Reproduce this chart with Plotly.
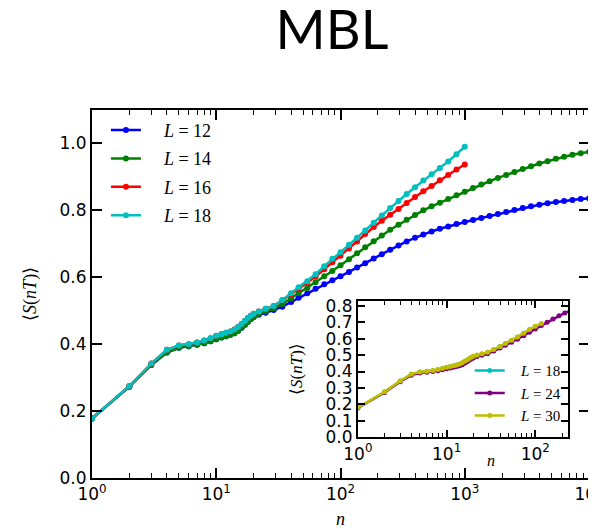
import plotly.graph_objects as go

# ---------------- data ----------------
n_grid = [1, 2, 3, 4, 5, 6, 7, 8, 9, 10, 11, 12, 13, 14, 15, 16, 17, 18, 19, 20,
          22, 25, 29, 34, 40, 46, 54, 63, 74, 86, 100, 117, 136, 158, 185, 215, 251,
          293, 341, 398, 464, 541, 631, 736, 858, 1000,
          1166, 1359, 1585, 1848, 2154, 2512, 2929, 3415, 3981, 4642, 5412, 6310,
          7356, 8577, 10000]

s_L12 = [0.178, 0.273, 0.338, 0.375, 0.389, 0.394, 0.398, 0.403, 0.409, 0.415,
         0.420, 0.424, 0.428, 0.433, 0.440, 0.449, 0.458, 0.467, 0.475, 0.481,
         0.488, 0.494, 0.502, 0.512, 0.526, 0.539, 0.552, 0.566, 0.579, 0.591,
         0.603, 0.616, 0.629, 0.642, 0.656, 0.669, 0.682, 0.695, 0.707, 0.718,
         0.728, 0.737, 0.745, 0.752, 0.759, 0.765,
         0.771, 0.777, 0.783, 0.789, 0.795, 0.801, 0.807, 0.812, 0.817, 0.821,
         0.825, 0.828, 0.831, 0.834, 0.836]

s_L14 = [0.178, 0.273, 0.338, 0.375, 0.389, 0.394, 0.398, 0.403, 0.409, 0.415,
         0.420, 0.424, 0.428, 0.433, 0.440, 0.449, 0.458, 0.467, 0.475, 0.481,
         0.490, 0.498, 0.507, 0.520, 0.537, 0.552, 0.568, 0.585, 0.603, 0.619,
         0.636, 0.654, 0.672, 0.690, 0.708, 0.725, 0.742, 0.757, 0.772, 0.786,
         0.800, 0.812, 0.823, 0.834, 0.845, 0.856,
         0.867, 0.877, 0.887, 0.897, 0.906, 0.915, 0.924, 0.932, 0.940, 0.947,
         0.954, 0.960, 0.966, 0.971, 0.975]

n_short = n_grid[:46]

s_L16 = [0.178, 0.275, 0.342, 0.383, 0.396, 0.400, 0.405, 0.411, 0.418, 0.425,
         0.430, 0.434, 0.438, 0.444, 0.451, 0.460, 0.469, 0.478, 0.485, 0.491,
         0.498, 0.506, 0.514, 0.531, 0.549, 0.566, 0.583, 0.602, 0.624, 0.645,
         0.664, 0.686, 0.707, 0.729, 0.750, 0.769, 0.787, 0.804, 0.822, 0.840,
         0.857, 0.873, 0.890, 0.906, 0.922, 0.937]

s_L18 = [0.178, 0.275, 0.342, 0.383, 0.396, 0.400, 0.405, 0.411, 0.418, 0.425,
         0.430, 0.434, 0.438, 0.444, 0.451, 0.460, 0.469, 0.478, 0.485, 0.491,
         0.498, 0.506, 0.514, 0.532, 0.552, 0.570, 0.588, 0.609, 0.633, 0.655,
         0.675, 0.697, 0.718, 0.740, 0.763, 0.785, 0.807, 0.828, 0.849, 0.869,
         0.889, 0.908, 0.927, 0.946, 0.968, 0.990]

# inset
n_in18 = n_grid[:31]
s_in18 = s_L18[:31]

n_in24 = n_grid[:37]
s_in24 = [0.178, 0.272, 0.338, 0.378, 0.391, 0.396, 0.400, 0.405, 0.411, 0.417,
          0.422, 0.426, 0.430, 0.435, 0.442, 0.451, 0.460, 0.469, 0.477, 0.483,
          0.492, 0.500, 0.508, 0.525, 0.544, 0.560, 0.578, 0.597, 0.618, 0.640,
          0.660, 0.680, 0.700, 0.720, 0.740, 0.757, 0.773]

n_in30 = n_grid[:32]
s_in30 = [0.180, 0.276, 0.343, 0.384, 0.397, 0.401, 0.406, 0.412, 0.419, 0.426,
          0.431, 0.435, 0.440, 0.446, 0.453, 0.462, 0.471, 0.480, 0.487, 0.493,
          0.501, 0.509, 0.517, 0.534, 0.553, 0.571, 0.590, 0.611, 0.634, 0.656,
          0.676, 0.693]

main_xticks = [1, 10, 100, 1000, 10000]
main_xtext = ["10<sup>0</sup>", "10<sup>1</sup>", "10<sup>2</sup>", "10<sup>3</sup>", "10<sup>4</sup>"]
main_yticks = [0.0, 0.2, 0.4, 0.6, 0.8, 1.0]
inset_xticks = [1, 10, 100]
inset_xtext = ["10<sup>0</sup>", "10<sup>1</sup>", "10<sup>2</sup>"]
inset_yticks = [0.0, 0.1, 0.2, 0.3, 0.4, 0.5, 0.6, 0.7, 0.8]

minor_main = [m * 10 ** d for d in range(4) for m in range(2, 10)]
minor_inset = [m * 10 ** d for d in range(3) for m in range(2, 10)]

# ---------------- figure ----------------
# the page body carries an 8 px margin, so the figure is 8 px smaller and
# every layout offset is measured from (8, 8) of the window
fig = go.Figure()

serif = "Liberation Serif"
sans = "DejaVu Sans"
NB = "\u00a0"

main_series = [("12", s_L12, n_grid, "#0000ff"),
               ("14", s_L14, n_grid, "#008000"),
               ("16", s_L16, n_short, "#ff0000"),
               ("18", s_L18, n_short, "#00bfbf")]
for lab, ys, xs, col in main_series:
    fig.add_trace(go.Scatter(
        x=xs, y=ys, mode="lines+markers", name=NB * 4 + f"<i>L</i> = {lab}",
        line=dict(color=col, width=2.5), marker=dict(color=col, size=6),
        legend="legend", legendgroup="m" + lab, xaxis="x", yaxis="y"))

inset_series = [("18", s_in18, n_in18, "#00bfbf"),
                ("24", s_in24, n_in24, "#800080"),
                ("30", s_in30, n_in30, "#bfbf00")]
for lab, ys, xs, col in inset_series:
    fig.add_trace(go.Scatter(
        x=xs, y=ys, mode="lines+markers", name=NB * 3 + f"<i>L</i> = {lab}",
        line=dict(color=col, width=2.5), marker=dict(color=col, size=5),
        legend="legend2", legendgroup="i" + lab, xaxis="x2", yaxis="y2"))

axis_common = dict(showgrid=False, zeroline=False, showline=True, linecolor="black",
                   linewidth=2, mirror="allticks", ticks="inside", tickcolor="black",
                   automargin=False,
                   tickfont=dict(family=sans, size=17, color="black"))

fig.update_layout(
    width=588, height=521,
    margin=dict(l=84, r=7, t=102, b=51, autoexpand=False),
    paper_bgcolor="white", plot_bgcolor="white",
    showlegend=True,
    xaxis=dict(type="log", range=[0, 4], domain=[0, 1],
               tickvals=main_xticks, ticktext=main_xtext, ticklen=10, tickwidth=1.5,
               ticklabeloverflow="allow",
               minor=dict(ticks="inside", ticklen=5, tickcolor="black", tickwidth=1,
                          tickvals=minor_main, showgrid=False),
               **axis_common),
    yaxis=dict(range=[0, 1.1], domain=[0, 1], tickvals=main_yticks,
               ticktext=[f"{v:.1f}" for v in main_yticks], ticklen=10, tickwidth=1.5,
               ticklabeloverflow="allow",
               **axis_common),
    xaxis2=dict(type="log", range=[0, 2.37], domain=[0.535, 0.958], anchor="y2",
                tickvals=inset_xticks, ticktext=inset_xtext, ticklen=7, tickwidth=1.5,
                minor=dict(ticks="inside", ticklen=4, tickcolor="black", tickwidth=1,
                           tickvals=minor_inset, showgrid=False),
                **axis_common),
    yaxis2=dict(range=[0, 0.83], domain=[0.111, 0.481], anchor="x2",
                tickvals=inset_yticks, ticktext=[f"{v:.1f}" for v in inset_yticks],
                ticklen=7, tickwidth=1.5, ticklabelstandoff=0,
                **axis_common),
    legend=dict(x=0.028, y=0.995, xanchor="left", yanchor="top",
                bgcolor="rgba(0,0,0,0)", borderwidth=0,
                font=dict(family=serif, size=18, color="black"),
                tracegroupgap=2, itemwidth=30),
    legend2=dict(x=0.76, y=0.336, xanchor="left", yanchor="top",
                 bgcolor="rgba(0,0,0,0)", borderwidth=0,
                 font=dict(family=serif, size=15, color="black"),
                 tracegroupgap=0, itemwidth=30),
    title=dict(text="MBL", x=324 / 588, xref="container",
               xanchor="center", y=1 - 22 / 521, yanchor="middle",
               font=dict(family="Lato", size=54, color="black")),
)

fig.add_annotation(text="<i>n</i>", xref="paper", yref="paper",
                   x=0.5, y=-0.112, xanchor="center", yanchor="middle",
                   showarrow=False,
                   font=dict(family=serif, size=18, color="black"))
fig.add_annotation(text="⟨<i>S</i>(<i>nT</i>)⟩", xref="paper", yref="paper",
                   x=-0.125, y=0.5, xanchor="center", yanchor="middle",
                   textangle=-90, showarrow=False,
                   font=dict(family=serif, size=18, color="black"))
fig.add_annotation(text="<i>n</i>", xref="paper", yref="paper",
                   x=(491 - 92) / 497, y=(478 - 460) / 368,
                   xanchor="center", yanchor="middle", showarrow=False,
                   font=dict(family=serif, size=16, color="black"))
fig.add_annotation(text="⟨<i>S</i>(<i>nT</i>)⟩", xref="paper", yref="paper",
                   x=(296 - 92) / 497, y=(478 - 369) / 368, textangle=-90,
                   xanchor="center", yanchor="middle", showarrow=False,
                   font=dict(family=serif, size=17, color="black"))

fig.write_html("out.html")
